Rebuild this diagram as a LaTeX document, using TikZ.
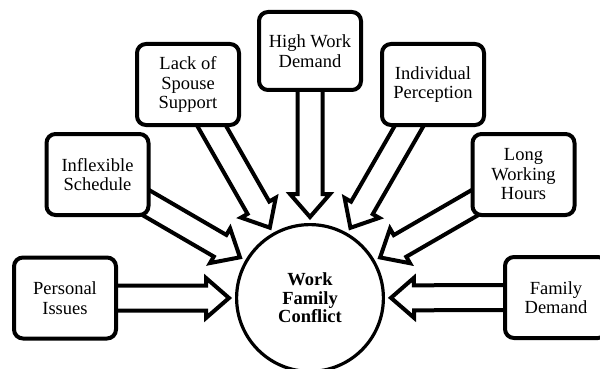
\documentclass[tikz,border=0pt]{standalone}
\usepackage{fontspec}
\setmainfont{Liberation Serif}
\usetikzlibrary{calc,backgrounds}

\pgfdeclarelayer{paper}
\pgfsetlayers{paper,background,main}

% Hollow block arrow from a source node towards a target node;
% the tip stops short of the target's centre by a fixed distance.
\newcommand\flowarrow[2]{%
  \draw[blockarrow]
    ($(#2)!81pt!(#1)$)
    -- ($(#2)!104pt!(#1)!20pt!90:(#1)$)
    -- ($(#2)!104pt!(#1)!12.5pt!90:(#1)$)
    -- ($(#1)!12.5pt!-90:(#2)$)
    -- ($(#1)!12.5pt!90:(#2)$)
    -- ($(#2)!104pt!(#1)!12.5pt!-90:(#1)$)
    -- ($(#2)!104pt!(#1)!20pt!-90:(#1)$)
    -- cycle;}

\begin{document}
\begin{tikzpicture}[x=1pt,y=-1pt,
  cause/.style={draw, line width=4pt, rounded corners=9pt, fill=white,
    minimum width=102pt, minimum height=81pt, inner sep=0pt, align=center,
    font=\fontsize{18.5}{19.5}\selectfont},
  hub/.style={draw, circle, line width=3.2pt, fill=white, minimum size=146.8pt,
    inner sep=0pt, align=center, font=\fontsize{18.5}{18.5}\selectfont\bfseries},
  blockarrow/.style={draw, line width=4pt, fill=white, line join=miter, miter limit=10}]
  \useasboundingbox (0,0) rectangle (600,369);
  \clip (0,0) rectangle (600,369);
  \begin{pgfonlayer}{paper}
    \fill[white] (0,0) rectangle (600,369);
  \end{pgfonlayer}

  % central outcome
  \node[hub] (wfc) at (310,298) {Work\\Family\\Conflict};

  % contributing factors
  \node[cause] (pi) at (65,298) {Personal\\Issues};
  \node[cause] (is) at (97.5,174.5) {Inflexible\\Schedule};
  \node[cause] (ls) at (188,84.5) {Lack of\\Spouse\\Support};
  \node[cause, minimum height=78pt] (hw) at (310,51) {High Work\\Demand};
  \node[cause] (ip) at (433,84.5) {Individual\\Perception};
  \node[cause] (lw) at (523.5,174.5) {Long\\Working\\Hours};
  \node[cause] (fd) at (556,297.5) {Family\\Demand};

  % arrows run under the boxes
  \begin{pgfonlayer}{background}
    \flowarrow{pi}{wfc}
    \flowarrow{is}{wfc}
    \flowarrow{ls}{wfc}
    \flowarrow{hw}{wfc}
    \flowarrow{ip}{wfc}
    \flowarrow{lw}{wfc}
    \flowarrow{fd}{wfc}
  \end{pgfonlayer}
\end{tikzpicture}
\end{document}
